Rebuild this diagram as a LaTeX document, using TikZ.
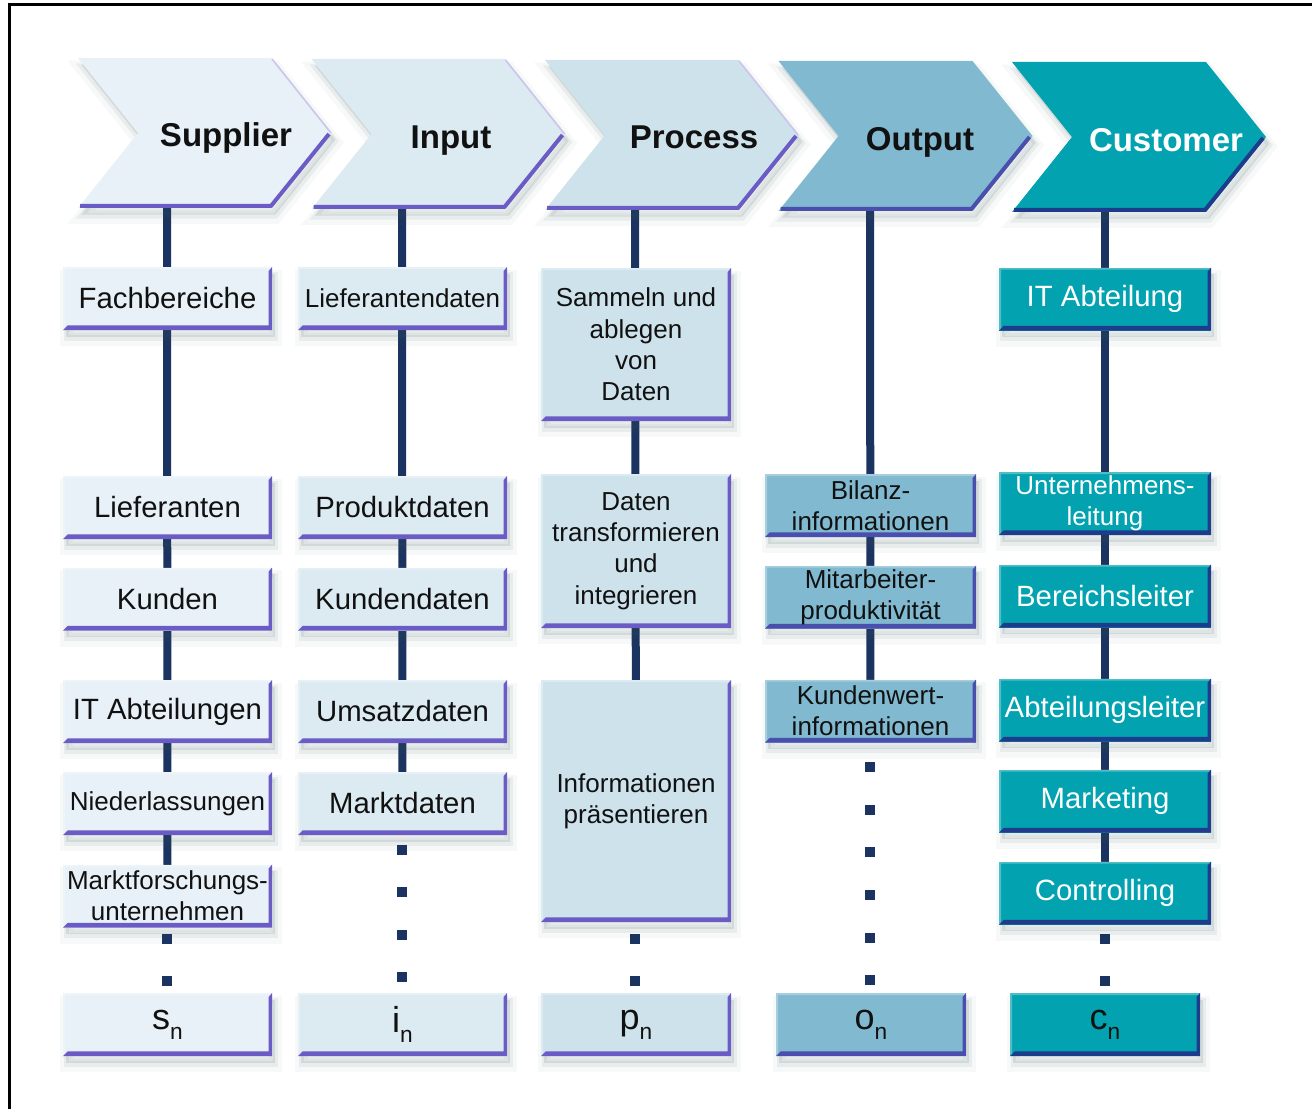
\documentclass[tikz,border=0pt]{standalone}
\usepackage{fontspec}
\setmainfont{Liberation Sans}
\usetikzlibrary{calc}
\definecolor{supfill}{HTML}{E8F1F8}
\definecolor{inpfill}{HTML}{DCEAF2}
\definecolor{profill}{HTML}{CEE2EC}
\definecolor{outfill}{HTML}{80B9D0}
\definecolor{cusfill}{HTML}{03A2B0}
\definecolor{purp}{HTML}{6B5BC4}
\definecolor{outedge}{HTML}{4A4FAE}
\definecolor{cusedge}{HTML}{1E3C8C}
\definecolor{stemcol}{HTML}{1B3360}
\definecolor{txt}{HTML}{111111}
\definecolor{shcol}{HTML}{3C5A5A}
\newcommand\fbig{\fontsize{22}{26}\selectfont}
\newcommand\fsmall{\fontsize{19.5}{23.5}\selectfont}
\newcommand\fhead{\fontsize{24.75}{28}\selectfont\bfseries}
\newcommand\fsub{\fontsize{27}{30}\selectfont}
\newcommand\subidx[1]{{\fsub #1\raisebox{-7.5pt}{\fontsize{17}{17}\selectfont n}}}
\pgfdeclarelayer{background}
\pgfsetlayers{background,main}
\begin{document}
\begin{tikzpicture}[x=0.75pt,y=-0.75pt,
  softshadow/.style={
    preaction={fill=shcol, opacity=0.13, transform canvas={xshift=2.5pt,yshift=-5pt}},
    preaction={draw=shcol, line width=4pt, opacity=0.08, transform canvas={xshift=2.5pt,yshift=-6pt}},
    preaction={draw=shcol, line width=10pt, opacity=0.045, transform canvas={xshift=2.5pt,yshift=-7pt}}},
  bevel/.style={path picture={
    \fill[white, opacity=0.3] (path picture bounding box.south west) -- (path picture bounding box.north west)
      -- (path picture bounding box.north east) -- ([shift={(0pt,-1.5pt)}]path picture bounding box.north east)
      -- ([shift={(1.5pt,-1.5pt)}]path picture bounding box.north west)
      -- ([shift={(1.5pt,0pt)}]path picture bounding box.south west) -- cycle;
    \fill[#1] (path picture bounding box.south west) -- (path picture bounding box.south east)
      -- (path picture bounding box.north east) -- ([shift={(-2.5pt,-3pt)}]path picture bounding box.north east)
      -- ([shift={(-2.5pt,3.5pt)}]path picture bounding box.south east)
      -- ([shift={(3.5pt,3.5pt)}]path picture bounding box.south west) -- cycle;}},
  wd/.style={minimum width=#1*0.75pt},
  ht/.style={minimum height=#1*0.75pt},
  card/.style={rectangle, inner sep=0pt, align=center, text=txt, ht=63, softshadow, font=\fbig},
  supbox/.style={card, fill=supfill, bevel=purp, wd=209},
  inpbox/.style={card, fill=inpfill, bevel=purp, wd=209},
  probox/.style={card, fill=profill, bevel=purp, wd=190},
  outbox/.style={card, fill=outfill, bevel=outedge, wd=211},
  cusbox/.style={card, fill=cusfill, bevel=cusedge, wd=212, text=white},
  sm/.style={font=\fsmall},
  head/.style={font=\fhead, text=txt, anchor=base, inner sep=0pt},
  stem/.style={draw=stemcol, line width=6pt},
  dotsq/.style={rectangle, fill=stemcol, minimum width=7.5pt, minimum height=7pt, inner sep=0pt},
  chevedge/.style={line width=3pt, line join=round},
]
\useasboundingbox (0,0) rectangle (1312,1109);
% frame
\draw[line width=2.25pt, black] (9,1109) -- (9,5) -- (1312,5);

% chevrons
\path[fill=supfill, softshadow] (78,58) -- (272,58) -- (332,133) -- (272,208) -- (78,208) -- (138,133) -- cycle;
\draw[chevedge, purp] (80,206) -- (271,206) -- (329,134);
\draw[purp!35, line width=1.2pt] (272,59) -- (331,133);
\coordinate (cS) at (167,206);
\node[head] (hS) at (226,147) {Supplier};

\path[fill=inpfill, softshadow] (311.5,59) -- (505.5,59) -- (565.5,134) -- (505.5,209) -- (311.5,209) -- (371.5,134) -- cycle;
\draw[chevedge, purp] (313.5,207) -- (504.5,207) -- (562.5,135);
\draw[purp!35, line width=1.2pt] (505.5,60) -- (564.5,134);
\coordinate (cI) at (402,207);
\node[head] (hI) at (451,149) {Input};

\path[fill=profill, softshadow] (545,60) -- (739,60) -- (799,135) -- (739,210) -- (545,210) -- (605,135) -- cycle;
\draw[chevedge, purp] (547,208) -- (738,208) -- (796,136);
\draw[purp!35, line width=1.2pt] (739,61) -- (798,135);
\coordinate (cP) at (635,208);
\node[head] (hP) at (694,149) {Process};

\path[fill=outfill, softshadow] (778.5,61) -- (972.5,61) -- (1032.5,136) -- (972.5,211) -- (778.5,211) -- (838.5,136) -- cycle;
\draw[chevedge, outedge] (780.5,209) -- (971.5,209) -- (1029.5,137);
\coordinate (cO) at (870,209);
\node[head] (hO) at (920,151) {Output};

\path[fill=cusfill, softshadow] (1012,62) -- (1206,62) -- (1266,137) -- (1206,212) -- (1012,212) -- (1072,137) -- cycle;
\draw[chevedge, cusedge] (1014,210) -- (1205,210) -- (1263,138);
\coordinate (cC) at (1105,210);
\node[head, text=white] (hC) at (1166,152) {Customer};

% supplier column
\node[supbox] (s1) at (167.5,298.5) {Fachbereiche};
\node[supbox] (s2) at (167.5,507.5) {Lieferanten};
\node[supbox] (s3) at (167.5,599) {Kunden};
\node[supbox] (s4) at (167.5,711.5) {IT Abteilungen};
\node[supbox, sm] (s5) at (167.5,803.5) {Niederlassungen};
\node[supbox, sm] (s6) at (167.5,896) {Marktforschungs-\\unternehmen};
\node[supbox] (sN) at (167.5,1024.5) {\subidx{s}};

% input column
\node[inpbox, sm] (i1) at (402.5,298.5) {Lieferantendaten};
\node[inpbox] (i2) at (402.5,507.5) {Produktdaten};
\node[inpbox] (i3) at (402.5,599) {Kundendaten};
\node[inpbox] (i4) at (402.5,711.5) {Umsatzdaten};
\node[inpbox] (i5) at (402.5,803.5) {Marktdaten};
\node[inpbox] (iN) at (402.5,1024.5) {\subidx{i}};

% process column
\node[probox, sm, ht=153] (p1) at (636,344.5) {Sammeln und\\ablegen\\von\\Daten};
\node[probox, sm, ht=154] (p2) at (636,551) {Daten\\transformieren\\und\\integrieren};
\node[probox, sm, ht=242] (p3) at (636,801) {Informationen\\präsentieren};
\node[probox] (pN) at (636,1024.5) {\subidx{p}};

% output column
\node[outbox, sm] (o1) at (870.5,505.5) {Bilanz-\\informationen};
\node[outbox, sm] (o2) at (870.5,597) {Mitarbeiter-\\produktivität};
\node[outbox, sm] (o3) at (870.5,711) {Kundenwert-\\informationen};
\node[outbox, wd=190] (oN) at (871,1024.5) {\subidx{o}};

% customer column
\node[cusbox] (c1) at (1105,299) {IT Abteilung};
\node[cusbox, sm] (c2) at (1105,503.5) {Unternehmens-\\leitung};
\node[cusbox] (c3) at (1105,596) {Bereichsleiter};
\node[cusbox] (c4) at (1105,710) {Abteilungsleiter};
\node[cusbox] (c5) at (1105,801) {Marketing};
\node[cusbox] (c6) at (1105,893) {Controlling};
\node[cusbox, wd=190, text=txt] (cN) at (1105,1024.5) {\subidx{c}};

% stems
\begin{pgfonlayer}{background}
\draw[stem] (cS) -- (s6.center);
\draw[stem] (cI) -- (i5.center);
\draw[stem] (cP) -- (p3.center);
\draw[stem] (cO) -- (o3.center);
\draw[stem] (cC) -- (c6.center);
\end{pgfonlayer}

% dotted continuations
\node[dotsq] (sd1) at (167,939) {};
\node[dotsq] (sd2) at (167,981) {};
\foreach \y [count=\k] in {850,892,935,977} {\node[dotsq] (id\k) at (402,\y) {};}
\node[dotsq] (pd1) at (635,939) {};
\node[dotsq] (pd2) at (635,981) {};
\foreach \y [count=\k] in {767,810,852,895,938,980} {\node[dotsq] (od\k) at (870,\y) {};}
\node[dotsq] (cd1) at (1105,939) {};
\node[dotsq] (cd2) at (1105,981) {};
\end{tikzpicture}
\end{document}
